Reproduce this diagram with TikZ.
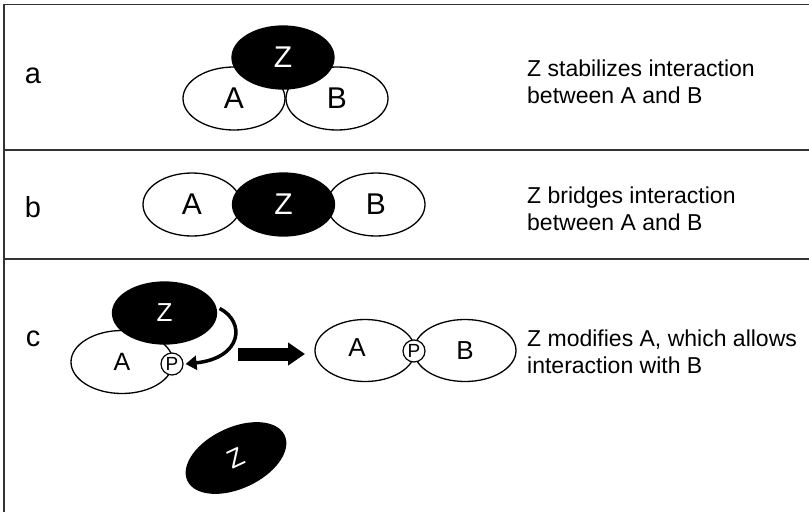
\documentclass[tikz,border=0pt]{standalone}
\usepackage{fontspec}
\setmainfont{Liberation Sans}
\usetikzlibrary{shapes.geometric,arrows.meta}

\begin{document}
\begin{tikzpicture}[x=1pt,y=-1pt,
  prot/.style={draw,ellipse,line width=1.3pt,inner sep=0pt,minimum width=102pt,minimum height=63pt,font=\fontsize{30}{30}\selectfont},
  zprot/.style={prot,fill=black,text=white},
  phos/.style={draw,circle,fill=white,line width=1.2pt,inner sep=0pt,minimum size=22pt,font=\fontsize{19}{19}\selectfont},
  desc/.style={anchor=west,align=left,inner sep=0pt,font=\fontsize{23}{27}\selectfont},
  tag/.style={inner sep=0pt,font=\fontsize{29}{29}\selectfont}]
\useasboundingbox (0,0) rectangle (809,512);
% frame and panel rules
\draw[line width=1.6pt,black!80] (809,4.5) -- (4,4.5) -- (4,512);
\foreach \y in {150,259}
  \draw[line width=1.6pt,black!80] (4,\y) -- (809,\y);
% a
\node[tag] (la) at (33,76) {a};
\node[prot] (aA) at (234,98.5) {A};
\node[prot] (aB) at (337,98.5) {B};
\node[zprot] (aZ) at (283,57.5) {Z};
\node[desc] (ta) at (527,81.5) {Z stabilizes interaction\\between A and B};
% b
\node[tag] (lb) at (33,207) {b};
\node[prot,minimum width=98pt] (bA) at (192,204.5) {A};
\node[prot,minimum width=98pt] (bB) at (376,204.5) {B};
\node[zprot] (bZ) at (283.5,204.5) {Z};
\node[desc] (tb) at (527,208.5) {Z bridges interaction\\between A and B};
% c
\node[tag] (lc) at (33,339) {c};
\node[prot,font=\fontsize{25}{25}\selectfont] (cA) at (122,362) {A};
\node[zprot,minimum width=104pt,minimum height=62pt,font=\fontsize{26}{26}\selectfont] (cZ) at (164.5,313) {Z};
\node[phos] (cP) at (172,364) {P};
\draw[line width=3.5pt,-{Triangle[length=11pt 0 0,width=14pt 0 0]}]
  ([xshift=3pt]cZ.5) .. controls (246,322) and (242,358) .. ([xshift=2pt]cP.east);
\coordinate (bs) at (238,354);
\coordinate (be) at (305,354);
\draw[line width=13pt,-{Triangle[length=17pt 0 0,width=22pt 0 0]}] (bs) -- (be);
\node[prot,minimum width=100pt,minimum height=62pt] (rA) at (365,350.5) {};
\node[prot,minimum width=102pt,minimum height=62pt,font=\fontsize{26}{26}\selectfont] (rB) at (465,350.5) {B};
\node[font=\fontsize{26}{26}\selectfont,inner sep=0pt] (rAl) at (357,348) {A};
\node[phos] (rP) at (414,351) {P};
\node[desc] (tc) at (527,352) {Z modifies A, which allows\\interaction with B};
% free Z
\node[zprot,minimum width=106pt,minimum height=60pt,rotate=25,font=\fontsize{26}{26}\selectfont] (dZ) at (236,458) {Z};
\end{tikzpicture}
\end{document}
